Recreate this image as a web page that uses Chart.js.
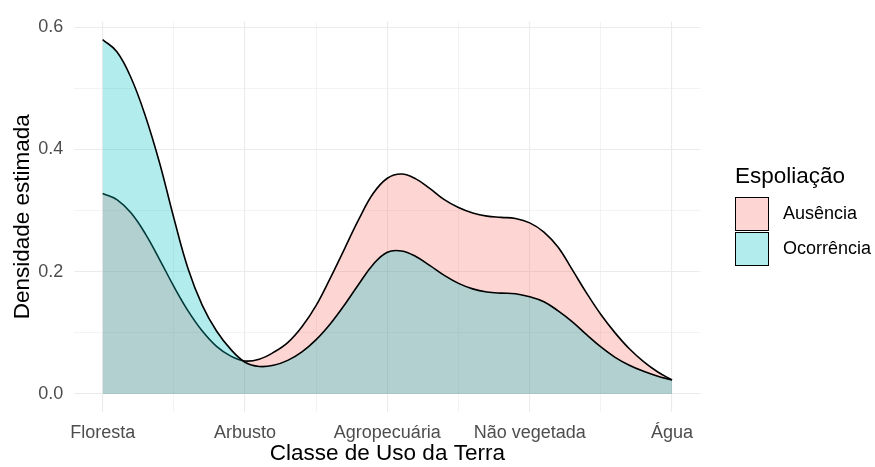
<!DOCTYPE html>
<html lang="pt">
<head>
<meta charset="utf-8">
<script src="https://cdn.jsdelivr.net/npm/chart.js@4.4.1/dist/chart.umd.min.js"></script>
<style>
  body { margin: 0; background: #ffffff; }
  #wrap { position: relative; width: 875px; height: 467px; font-family: "Liberation Sans", Arial, sans-serif; }
  #legend { position: absolute; left: 735px; top: 163px; }
  .leg-title { font-size: 22.5px; line-height: 26px; color: #000; margin-bottom: 7px; }
  .leg-item { display: flex; align-items: center; height: 35px; }
  .leg-box { width: 34px; height: 34px; box-sizing: border-box; border: 1.4px solid #000; }
  .leg-label { margin-left: 14px; font-size: 18px; color: #000; }
</style>
</head>
<body>
<div id="wrap">
  <canvas id="densChart" width="875" height="467"></canvas>
  <div id="legend"></div>
</div>
<script>
// categories on the x axis (positions 1..5)
const categories = ['Floresta', 'Arbusto', 'Agropecuária', 'Não vegetada', 'Água'];

// x positions where the density curves were read
const xPos = [1.0, 1.1, 1.2, 1.3, 1.4, 1.5, 1.6, 1.7, 1.8, 1.9,
              2.0, 2.1, 2.2, 2.3, 2.4, 2.5, 2.6, 2.7, 2.8, 2.9,
              3.0, 3.1, 3.2, 3.3, 3.4, 3.5, 3.6, 3.7, 3.8, 3.9,
              4.0, 4.1, 4.2, 4.3, 4.4, 4.5, 4.6, 4.7, 4.8, 4.9, 5.0];

// estimated density, Espoliação = Ausência
const ausencia = [0.328, 0.318, 0.296, 0.262, 0.220, 0.176, 0.136, 0.103, 0.078, 0.062,
                  0.054, 0.057, 0.068, 0.084, 0.110, 0.145, 0.190, 0.238, 0.286, 0.328,
                  0.353, 0.360, 0.352, 0.336, 0.318, 0.305, 0.296, 0.291, 0.289, 0.287,
                  0.280, 0.265, 0.240, 0.203, 0.165, 0.130, 0.100, 0.074, 0.053, 0.036, 0.023];

// estimated density, Espoliação = Ocorrência
const ocorrencia = [0.580, 0.560, 0.517, 0.455, 0.378, 0.288, 0.205, 0.145, 0.103, 0.073,
                    0.052, 0.045, 0.047, 0.055, 0.069, 0.089, 0.115, 0.146, 0.180, 0.212,
                    0.232, 0.234, 0.225, 0.210, 0.194, 0.181, 0.172, 0.167, 0.165, 0.164,
                    0.159, 0.151, 0.136, 0.118, 0.097, 0.077, 0.060, 0.047, 0.037, 0.029, 0.023];

// axis ticks
const xMajor = [1, 2, 3, 4, 5];
const xMinor = [1.5, 2.5, 3.5, 4.5];
const yMajor = [0, 0.2, 0.4, 0.6];
const yMinor = [0.1, 0.3, 0.5];

const seriesNames = ['Ausência', 'Ocorrência'];
const fills = ['rgba(248, 118, 109, 0.3)', 'rgba(0, 191, 196, 0.3)'];

Chart.defaults.font.family = '"Liberation Sans", Arial, sans-serif';

const isMajor = (v, list) => list.some(m => Math.abs(m - v) < 1e-9);

// higher order is painted first, so Ocorrência ends up on top like in ggplot
function makeDataset(name, values, fill, order) {
    return {
        label: name,
        data: xPos.map((x, i) => ({ x: x, y: values[i] })),
        borderColor: '#000000',
        borderWidth: 1.6,
        backgroundColor: fill,
        fill: 'origin',
        pointRadius: 0,
        tension: 0.4,
        order: order
    };
}

new Chart(document.getElementById('densChart').getContext('2d'), {
    type: 'line',
    data: {
        datasets: [
            makeDataset(seriesNames[0], ausencia, fills[0], 1),
            makeDataset(seriesNames[1], ocorrencia, fills[1], 0)
        ]
    },
    options: {
        responsive: false,
        animation: false,
        devicePixelRatio: 1,
        layout: { padding: { left: 0, right: 174.5, top: 16, bottom: 0 } },
        plugins: { legend: { display: false }, tooltip: { enabled: false } },
        scales: {
            x: {
                type: 'linear',
                min: 0.8,
                max: 5.2,
                afterBuildTicks: s => { s.ticks = xMajor.concat(xMinor).sort((a, b) => a - b).map(v => ({ value: v })); },
                afterFit: s => { s.height = 55.3; },
                grid: {
                    color: '#EBEBEB',
                    lineWidth: c => isMajor(c.tick.value, xMajor) ? 1.1 : 0.6,
                    drawTicks: false
                },
                border: { display: false },
                ticks: {
                    autoSkip: false,
                    maxRotation: 0,
                    padding: 11,
                    color: '#4D4D4D',
                    font: { size: 18 },
                    callback: v => isMajor(v, xMajor) ? categories[Math.round(v) - 1] : ''
                },
                title: {
                    display: true,
                    text: 'Classe de Uso da Terra',
                    color: '#000000',
                    font: { size: 22.5 },
                    padding: { top: 0, bottom: 0 }
                }
            },
            y: {
                min: -0.029,
                max: 0.609,
                afterBuildTicks: s => { s.ticks = yMajor.concat(yMinor).sort((a, b) => a - b).map(v => ({ value: v })); },
                afterFit: s => { s.width = 74.2; },
                grid: {
                    color: '#EBEBEB',
                    lineWidth: c => isMajor(c.tick.value, yMajor) ? 1.1 : 0.6,
                    drawTicks: false
                },
                border: { display: false },
                ticks: {
                    padding: 11,
                    color: '#4D4D4D',
                    font: { size: 18 },
                    callback: v => isMajor(v, yMajor) ? v.toFixed(1) : ''
                },
                title: {
                    display: true,
                    text: 'Densidade estimada',
                    color: '#000000',
                    font: { size: 22.5 },
                    padding: { top: 9, bottom: 0 }
                }
            }
        }
    }
});

// legend in the ggplot style
const legend = document.getElementById('legend');
legend.innerHTML = '<div class="leg-title">Espoliação</div>' +
    seriesNames.map((n, i) =>
        '<div class="leg-item"><div class="leg-box" style="background:' + fills[i] + '"></div>' +
        '<span class="leg-label">' + n + '</span></div>').join('');
</script>
</body>
</html>
